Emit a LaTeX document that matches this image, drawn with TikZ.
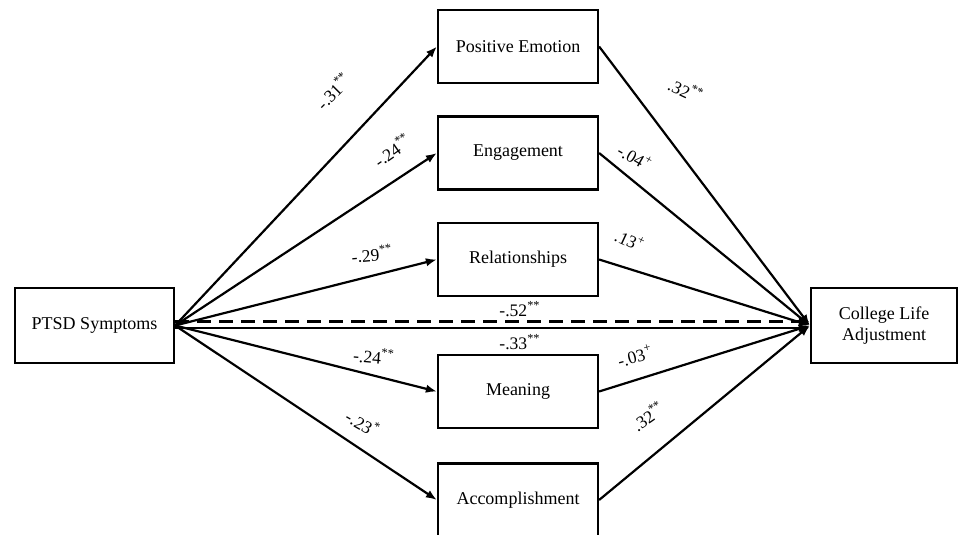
\documentclass[tikz,border=0pt]{standalone}
\usepackage{fontspec}
\setmainfont{Liberation Serif}
\usetikzlibrary{arrows.meta}

\begin{document}
\begin{tikzpicture}[x=0.5pt,y=-0.5pt,
  box/.style={draw=drawColor,line width=1.1pt,minimum width=80pt,minimum height=36.5pt,
    inner sep=0pt,align=center,font=\fontsize{9}{10.5}\selectfont},
  effect/.style={draw=drawColor,line width=1.1pt,line join=round,
    -{Latex[length=5.5pt,width=4.2pt]}},
  coef/.style={text=drawColor,inner sep=0pt,font=\fontsize{8.8}{10}\selectfont}]
\definecolor[named]{drawColor}{rgb}{0.00,0.00,0.00}
\path[use as bounding box] (0,0) rectangle (959,535);
\begin{scope}
\path[clip] (0,0) rectangle (959,535);

\node[box,minimum width=79.5pt,minimum height=37.5pt] (ptsd) at ( 94.5,325.5) {PTSD Symptoms};
\node[box,minimum width=73pt,minimum height=37.5pt] (cla) at (884.0,325.5) {College Life\\Adjustment};

\node[box] (pe)  at (518.0, 46.5) {Positive Emotion};
\node[box] (eng) at (518.0,153.0) {Engagement};
\node[box] (rel) at (518.0,259.5) {Relationships};
\node[box] (mea) at (518.0,391.5) {Meaning};
\node[box] (acc) at (518.0,500.0) {Accomplishment};

\foreach \m in {pe,eng,rel,mea,acc} {
  \path[effect] (ptsd.east) -- (\m.west);
  \path[effect] (\m.east) -- (cla.west);
}

\path[effect,dash pattern=on 7pt off 4pt] ([yshift=2pt]ptsd.east) -- ([yshift=2pt]cla.west);
\path[effect] ([yshift=-1.2pt]ptsd.east) -- ([yshift=-1.2pt]cla.west);

\node[coef,rotate= 45] at (333, 91) {-.31\textsuperscript{**}};
\node[coef,rotate= 35] at (392,150) {-.24\textsuperscript{**}};
\node[coef,rotate=  5] at (372,254) {-.29\textsuperscript{**}};
\node[coef]            at (520,309) {-.52\textsuperscript{**}};
\node[coef]            at (520,342) {-.33\textsuperscript{**}};
\node[coef,rotate= -5] at (374,356) {-.24\textsuperscript{**}};
\node[coef,rotate=-30] at (363,423) {-.23\textsuperscript{*}};

\node[coef,rotate=-25] at (686, 90) {.32\textsuperscript{**}};
\node[coef,rotate=-30] at (635,157) {-.04\textsuperscript{+}};
\node[coef,rotate=-25] at (630,240) {.13\textsuperscript{+}};
\node[coef,rotate= 15] at (635,356) {-.03\textsuperscript{+}};
\node[coef,rotate= 35] at (648,416) {.32\textsuperscript{**}};
\end{scope}
\end{tikzpicture}
\end{document}
